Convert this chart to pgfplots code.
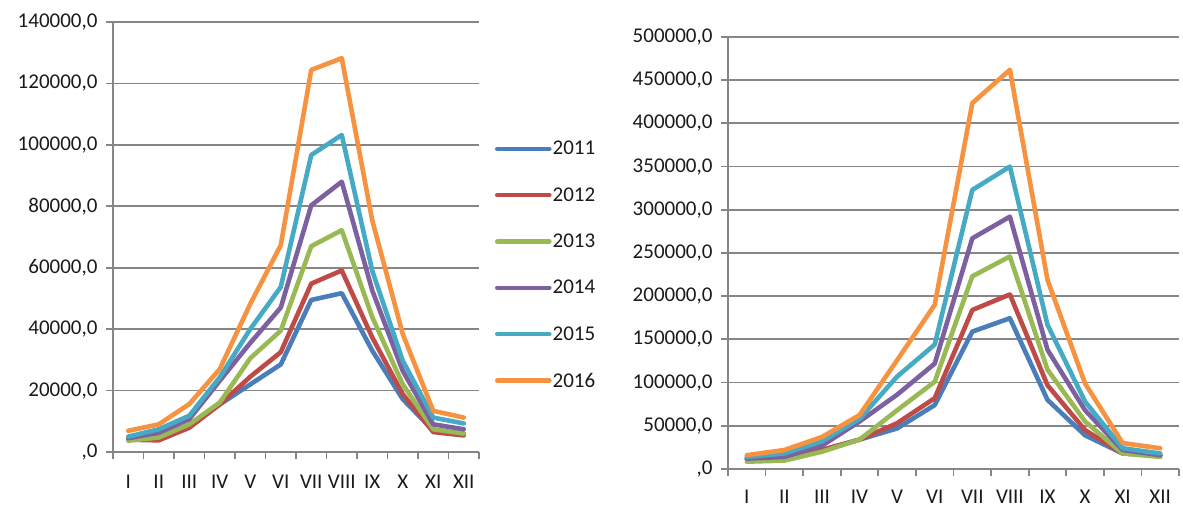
\documentclass[border=0pt]{standalone}
\usepackage{fontspec}
\setmainfont{Carlito}
\usepackage{pgfplots}
\pgfplotsset{compat=1.18}
\definecolor{c11}{HTML}{4A7EBB}
\definecolor{c12}{HTML}{BE4B48}
\definecolor{c13}{HTML}{98B954}
\definecolor{c14}{HTML}{7D60A0}
\definecolor{c15}{HTML}{46AAC5}
\definecolor{c16}{HTML}{F69240}
\definecolor{gridgray}{HTML}{868686}
\definecolor{txt}{HTML}{1A1A1A}
\pgfplotsset{
  common/.style={
    scale only axis,
    anchor=south west,
    axis lines*=left,
    xmin=0.5, xmax=12.5, ymin=0,
    xtick={1,...,12},
    xticklabels={I,II,III,IV,V,VI,VII,VIII,IX,X,XI,XII},
    major x tick style={draw=none},
    minor xtick={0.5,1.5,...,12.5},
    minor tick length=7bp,
    major tick length=7bp,
    tick align=outside,
    ymajorgrids,
    grid style={gridgray, line width=1.8bp},
    axis line style={gridgray, line width=1.8bp},
    tick style={gridgray, line width=1.8bp},
    scaled y ticks=false,
    ticklabel style={text=txt, font=\fontsize{21bp}{25bp}\selectfont},
    yticklabel style={xshift=-5bp},
    every axis plot/.append style={line width=4.6bp, line join=round, line cap=round, mark=none},
    clip=false,
  }
}
\begin{document}
\begin{tikzpicture}[x=1bp,y=1bp]
\useasboundingbox (0,0) rectangle (1183,509);
\begin{axis}[common,
  at={(113bp,57bp)}, width=366bp, height=430bp,
  ymax=140000,
  ytick={0,20000,...,140000},
  yticklabels={{,0},{20000,0},{40000,0},{60000,0},{80000,0},{100000,0},{120000,0},{140000,0}},
  xticklabel style={yshift=-13bp},
  legend style={draw=none, fill=none, at={(1.035,0.73)}, anchor=north west,
    font=\fontsize{21bp}{25bp}\selectfont, row sep=29.2bp, text=txt,
    nodes={inner sep=1bp}},
  legend cell align=left,
  legend image code/.code={\draw[#1, line width=4.6bp, line cap=round] (0bp,0bp) -- (52bp,0bp);},
]
\addplot[c11] coordinates {(1,4800)(2,6000)(3,8500)(4,15500)(5,22000)(6,28500)(7,49500)(8,51700)(9,33000)(10,17200)(11,7000)(12,6000)};
\addlegendentry{2011}
\addplot[c12] coordinates {(1,4000)(2,3800)(3,7900)(4,15500)(5,24500)(6,32500)(7,54800)(8,59100)(9,37300)(10,18800)(11,6500)(12,5400)};
\addlegendentry{2012}
\addplot[c13] coordinates {(1,3700)(2,4700)(3,9000)(4,16100)(5,30500)(6,39500)(7,67000)(8,72200)(9,43900)(10,22000)(11,7400)(12,6000)};
\addlegendentry{2013}
\addplot[c14] coordinates {(1,4500)(2,6300)(3,10700)(4,23200)(5,35500)(6,47000)(7,80300)(8,88000)(9,52600)(10,26400)(11,9000)(12,7400)};
\addlegendentry{2014}
\addplot[c15] coordinates {(1,5000)(2,7400)(3,11800)(4,24300)(5,40000)(6,53700)(7,96700)(8,103200)(9,59000)(10,29700)(11,11200)(12,9300)};
\addlegendentry{2015}
\addplot[c16] coordinates {(1,6900)(2,9000)(3,15600)(4,27000)(5,48200)(6,67300)(7,124400)(8,128200)(9,75400)(10,38400)(11,13400)(12,11200)};
\addlegendentry{2016}
\end{axis}
\begin{axis}[common,
  at={(728bp,40bp)}, width=451bp, height=432bp,
  ymax=500000,
  ytick={0,50000,...,500000},
  yticklabels={{,0},{50000,0},{100000,0},{150000,0},{200000,0},{250000,0},{300000,0},{350000,0},{400000,0},{450000,0},{500000,0}},
  xticklabel style={yshift=-11bp},
]
\addplot[c11] coordinates {(1,12000)(2,13000)(3,22000)(4,34000)(5,47000)(6,74000)(7,159000)(8,174500)(9,80000)(10,39000)(11,18000)(12,16000)};
\addplot[c12] coordinates {(1,12000)(2,12000)(3,22000)(4,34000)(5,53000)(6,82000)(7,184000)(8,202000)(9,97000)(10,45000)(11,18000)(12,16000)};
\addplot[c13] coordinates {(1,8500)(2,9700)(3,20000)(4,34000)(5,68000)(6,101000)(7,223000)(8,246000)(9,115000)(10,55000)(11,18000)(12,14000)};
\addplot[c14] coordinates {(1,12000)(2,14000)(3,27000)(4,55000)(5,86000)(6,122000)(7,267000)(8,292000)(9,138000)(10,68000)(11,22000)(12,16000)};
\addplot[c15] coordinates {(1,14000)(2,18000)(3,32000)(4,58000)(5,107000)(6,144000)(7,323000)(8,350000)(9,167000)(10,78000)(11,24000)(12,18000)};
\addplot[c16] coordinates {(1,16000)(2,22000)(3,37000)(4,62500)(5,126000)(6,190000)(7,423500)(8,462000)(9,219000)(10,99000)(11,30000)(12,24000)};
\end{axis}
\end{tikzpicture}
\end{document}
